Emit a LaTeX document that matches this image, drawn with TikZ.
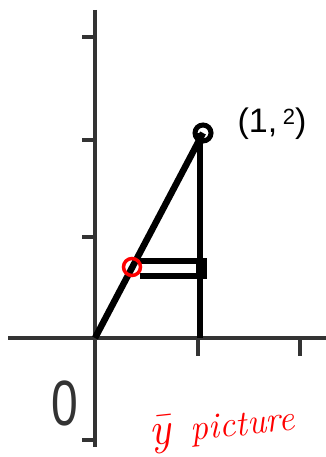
\documentclass[tikz,border=0pt]{standalone}
\usepackage{fontspec}
\newfontfamily\handfont{Liberation Sans}
\begin{document}
\begin{tikzpicture}[x=1pt,y=-1pt,
  axisline/.style={line width=4pt,draw=black!80},
  tickline/.style={line width=3.5pt,draw=black!80},
  bold/.style={line width=6.5pt,draw=black},
  stripline/.style={line width=5.5pt,draw=black},
  redmark/.style={draw=red,line width=3.5pt,circle,minimum size=17pt,inner sep=0pt},
  pointmark/.style={draw=black,line width=5pt,circle,minimum size=16pt,inner sep=0pt},
  handlabel/.style={font=\handfont,inner sep=0pt}]
\useasboundingbox (0,0) rectangle (326,457);
% axes
\coordinate (O) at (95,338);
\coordinate (ytop) at (95,10);
\coordinate (ybot) at (95,447);
\coordinate (xleft) at (8,338);
\coordinate (xright) at (326,338);
\draw[axisline] (ytop) -- (ybot);
\draw[axisline] (xleft) -- (xright);
% ticks
\foreach \yy in {37,140,237,440} \draw[tickline] (82,\yy) -- (95,\yy);
\foreach \xx in {198,300} \draw[tickline] (\xx,338) -- (\xx,356);
% triangle
\node[pointmark] (P) at (203,133) {};
\coordinate (F) at (200,338);
\draw[bold] (O) -- (P.center);
\draw[bold] (P.center) ++(-3,0) -- (F);
% strip
\coordinate (s1) at (140,261);
\coordinate (s2) at (200,261);
\coordinate (s3) at (140,276);
\coordinate (s4) at (200,276);
\draw[stripline] (s1) -- (s2);
\draw[stripline] (s3) -- (s4);
\fill[black] (196,258) rectangle (207,279);
\node[redmark] (R) at (132,267) {};
% labels
\node[handlabel,font=\handfont\fontsize{34}{34}\selectfont] (L) at (272,124) {(1,\,\raisebox{8pt}{\fontsize{22}{22}\selectfont 2})};
\node[handlabel,text=black!80,xscale=0.75,font=\handfont\fontsize{64}{64}\selectfont] (Z) at (65,403) {0};
\node[red,rotate=6,inner sep=0pt,font=\itshape\fontsize{36}{36}\selectfont] (T) at (222,428) {{\fontsize{46}{46}\selectfont\={y}}\hspace{20pt}picture};
\end{tikzpicture}
\end{document}
